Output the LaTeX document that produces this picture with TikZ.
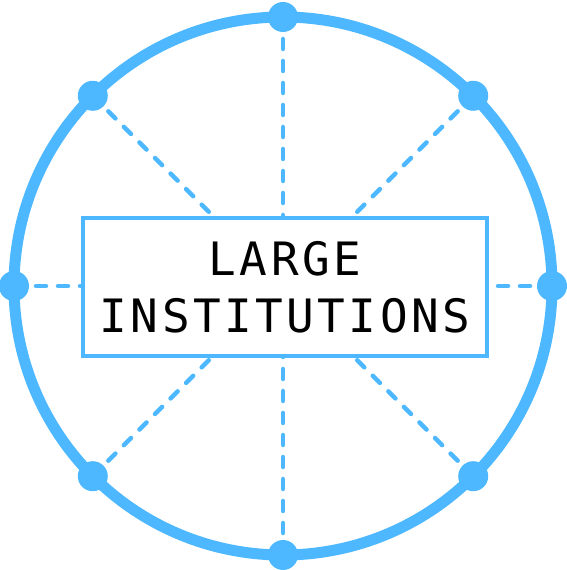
\documentclass[tikz,border=0pt]{standalone}
\usepackage{fontspec}
\newfontfamily\labelfont[LetterSpace=7.5]{DejaVu Sans Mono}
\definecolor{sky-400}{RGB}{77,184,255}
\usetikzlibrary{positioning}

\begin{document}
\begin{tikzpicture}[
    x=1pt, y=1pt,
    ring/.style={draw=sky-400, line width=11pt},
    spoke/.style={draw=sky-400, line width=4.5pt, line cap=round, dash pattern=on 10pt off 12pt},
    hub box/.style={draw=sky-400, line width=4pt, fill=white, minimum width=404pt, minimum height=138pt, align=center, font=\labelfont\fontsize{46}{57}\selectfont},
    dot/.style={circle, fill=sky-400, inner sep=0pt, minimum size=30pt}
]
\useasboundingbox (0,0) rectangle (567,570);

% centre of the ring and points on it
\coordinate (centre) at (283,284);
\foreach \a in {0,45,...,315}
    \coordinate (p\a) at ([shift={(\a:269)}]centre);

% Spokes from the ring to the centre
\foreach \a in {0,45,...,315}
    \draw[spoke] (p\a) -- (centre);

% Central box
\node[hub box] (hub) at (285,283) {LARGE\\INSTITUTIONS};

% Ring
\draw[ring] (centre) circle (269);

% Dots on the ring
\foreach \a in {0,45,...,315}
    \node[dot] (dot\a) at (p\a) {};

\end{tikzpicture}
\end{document}
